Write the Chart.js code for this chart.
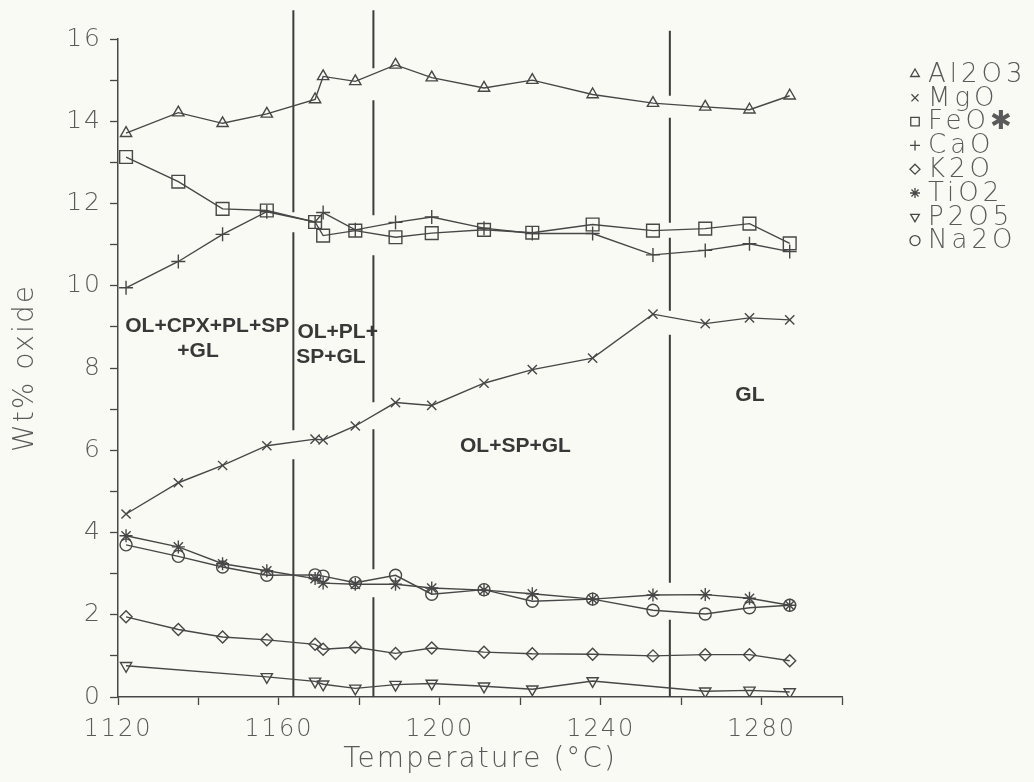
<!DOCTYPE html>
<html>
<head>
<meta charset="utf-8">
<script src="https://cdn.jsdelivr.net/npm/chart.js@4.4.1/dist/chart.umd.min.js"></script>
<style>
  html, body { margin: 0; padding: 0; background: #fafaf4; }
  canvas { display: block; }
</style>
</head>
<body>
<canvas id="chart" width="1034" height="782"></canvas>
<script>
// Run temperatures (°C) and glass compositions (wt% oxide) per run
const temperatures = [1122, 1135, 1146, 1157, 1169, 1171, 1179, 1189, 1198, 1211, 1223, 1238, 1253, 1266, 1277, 1287];
const al2o3 = [13.71, 14.21, 13.95, 14.18, 14.53, 15.09, 14.97, 15.37, 15.06, 14.81, 15.00, 14.65, 14.44, 14.35, 14.28, 14.62];
const mgo   = [4.45, 5.21, 5.63, 6.11, 6.27, 6.25, 6.59, 7.16, 7.09, 7.63, 7.96, 8.24, 9.31, 9.08, 9.22, 9.17];
const feo   = [13.13, 12.53, 11.87, 11.83, 11.55, 11.22, 11.34, 11.18, 11.28, 11.36, 11.29, 11.49, 11.34, 11.39, 11.51, 11.03];
const cao   = [9.95, 10.59, 11.25, 11.80, 11.55, 11.78, 11.36, 11.54, 11.67, 11.40, 11.27, 11.27, 10.75, 10.86, 11.02, 10.83];
const k2o   = [1.95, 1.64, 1.46, 1.39, 1.28, 1.16, 1.21, 1.06, 1.19, 1.09, 1.05, 1.04, 1.00, 1.03, 1.03, 0.88];
const tio2  = [3.92, 3.65, 3.24, 3.07, 2.88, 2.77, 2.74, 2.74, 2.65, 2.60, 2.51, 2.38, 2.48, 2.49, 2.40, 2.23];
const p2o5  = [0.76, null, null, 0.49, 0.38, 0.31, 0.21, 0.30, 0.33, 0.26, 0.19, 0.39, null, 0.14, 0.16, 0.12];
const na2o  = [3.70, 3.42, 3.16, 2.96, 2.97, 2.94, 2.78, 2.96, 2.50, 2.61, 2.33, 2.38, 2.11, 2.02, 2.17, 2.23];

const oxideNames = ['Al2O3', 'MgO', 'FeO✱', 'CaO', 'K2O', 'TiO2', 'P2O5', 'Na2O'];

// Phase boundaries (°C) and how far up each line is drawn (wt%)
const boundaryTemps = [1163.6, 1183.5, 1257.2];
const boundaryTops = [16.7, 16.7, 16.2];

// Phase assemblage labels
const phaseFieldLabels = ['OL+CPX+PL+SP', '+GL', 'OL+PL+', 'SP+GL', 'OL+SP+GL', 'GL'];

// Tick labels
const xTickLabels = [1120, 1160, 1200, 1240, 1280];
const yTickLabels = [0, 2, 4, 6, 8, 10, 12, 14, 16];

const ink = '#474747';
const textInk = '#5a5a5a';
const plotterFont = '"DejaVu Sans", sans-serif';

const toPoints = values => temperatures.map((t, i) => ({ x: t, y: values[i] }));

const markerStyles = [
  { pointStyle: 'triangle', rotation: 0, radius: 6.5 },
  { pointStyle: 'crossRot', rotation: 0, radius: 6.5 },
  { pointStyle: 'rect', rotation: 0, radius: 9 },
  { pointStyle: 'cross', rotation: 0, radius: 7 },
  { pointStyle: 'rectRot', rotation: 0, radius: 6 },
  { pointStyle: 'star', rotation: 0, radius: 6.5 },
  { pointStyle: 'triangle', rotation: 180, radius: 6.5 },
  { pointStyle: 'circle', rotation: 0, radius: 6 }
];

const oxideSeries = [al2o3, mgo, feo, cao, k2o, tio2, p2o5, na2o];

const oxideDatasets = oxideSeries.map((values, i) => ({
  label: oxideNames[i],
  isOxide: true,
  data: toPoints(values),
  borderColor: ink,
  borderWidth: 1.4,
  tension: 0,
  spanGaps: true,
  pointStyle: markerStyles[i].pointStyle,
  pointRotation: markerStyles[i].rotation,
  pointRadius: markerStyles[i].radius,
  pointBorderColor: ink,
  pointBorderWidth: 1.4,
  pointBackgroundColor: 'rgba(0,0,0,0)'
}));

const boundaryDashes = [
  [202, 20, 198, 29, 400],
  [58, 32, 115, 40, 147, 27, 140, 28, 200],
  [65, 22, 105, 15, 73, 24, 248, 37, 200]
];

const boundaryDatasets = boundaryTemps.map((t, i) => ({
  label: 'boundary ' + (i + 1),
  isOxide: false,
  data: [{ x: t, y: boundaryTops[i] }, { x: t, y: 0 }],
  borderColor: '#3c3c3c',
  borderWidth: 2,
  borderDash: boundaryDashes[i],
  pointRadius: 0,
  clip: false
}));

// Paper background and letter spacing for the plotter-style axis text
const paperPlugin = {
  id: 'paper',
  beforeDraw(chart) {
    const ctx = chart.ctx;
    ctx.save();
    ctx.fillStyle = '#fafaf4';
    ctx.fillRect(0, 0, chart.width, chart.height);
    ctx.restore();
    ctx.letterSpacing = '2px';
  },
  beforeDatasetsDraw(chart) {
    chart.ctx.letterSpacing = '0px';
  }
};

// Phase field labels placed in data coordinates
const phaseLabelPlugin = {
  id: 'phaseLabels',
  afterDatasetsDraw(chart, args, opts) {
    const { ctx, scales: { x, y } } = chart;
    ctx.save();
    ctx.letterSpacing = '0px';
    ctx.font = 'bold 21px "Liberation Sans", Arial, sans-serif';
    ctx.fillStyle = '#383838';
    ctx.textBaseline = 'middle';
    opts.items.forEach((it, i) => {
      ctx.textAlign = it.align;
      ctx.fillText(phaseFieldLabels[i], x.getPixelForValue(it.t), y.getPixelForValue(it.v));
    });
    ctx.restore();
  }
};

// Key of oxide symbols to the right of the plot
const keyPlugin = {
  id: 'oxideKey',
  afterDraw(chart, args, opts) {
    const ctx = chart.ctx;
    ctx.save();
    ctx.letterSpacing = '4px';
    ctx.font = `200 26px ${plotterFont}`;
    ctx.textBaseline = 'middle';
    ctx.textAlign = 'left';
    chart.data.datasets.filter(d => d.isOxide).forEach((ds, i) => {
      const yPos = opts.top + i * opts.rowHeight;
      ctx.strokeStyle = ink;
      ctx.lineWidth = 1.3;
      ctx.fillStyle = 'rgba(0,0,0,0)';
      if (Chart.helpers && Chart.helpers.drawPoint) {
        Chart.helpers.drawPoint(ctx, {
          pointStyle: ds.pointStyle,
          rotation: ds.pointRotation || 0,
          radius: ds.pointStyle === 'rect' ? 6 : 5,
          borderWidth: 1.3
        }, opts.markerX, yPos);
      }
      ctx.fillStyle = textInk;
      ctx.fillText(ds.label, opts.textX, yPos + 1);
    });
    ctx.restore();
  }
};

new Chart(document.getElementById('chart'), {
  type: 'line',
  data: { datasets: [...oxideDatasets, ...boundaryDatasets] },
  plugins: [paperPlugin, phaseLabelPlugin, keyPlugin],
  options: {
    responsive: false,
    animation: false,
    events: [],
    layout: { padding: { left: 0, top: 39, right: 192, bottom: 0 } },
    plugins: {
      legend: { display: false },
      tooltip: { enabled: false },
      phaseLabels: {
        items: [
          { t: 1121.8, v: 9.02, align: 'left' },
          { t: 1139.9, v: 8.41, align: 'center' },
          { t: 1164.6, v: 8.88, align: 'left' },
          { t: 1164.3, v: 8.27, align: 'left' },
          { t: 1218.8, v: 6.09, align: 'center' },
          { t: 1277.1, v: 7.34, align: 'center' }
        ]
      },
      oxideKey: { markerX: 915, textX: 928, top: 74, rowHeight: 23.8 }
    },
    scales: {
      x: {
        type: 'linear',
        min: 1120,
        max: 1300,
        afterFit(scale) { scale.height = 85; },
        border: { display: true, color: ink, width: 1.5 },
        grid: { drawOnChartArea: false, drawTicks: true, tickLength: 8, color: ink, tickColor: ink, tickWidth: 1.3 },
        ticks: {
          stepSize: 20,
          autoSkip: false,
          maxRotation: 0,
          padding: 10,
          color: textInk,
          font: { family: plotterFont, size: 24, weight: '200' },
          callback: v => (xTickLabels.includes(v) ? String(v) : '')
        },
        title: {
          display: true,
          text: 'Temperature (°C)',
          color: textInk,
          font: { family: plotterFont, size: 28, weight: '200' },
          padding: { top: 0, bottom: 5 }
        }
      },
      y: {
        type: 'linear',
        min: 0,
        max: 16,
        afterFit(scale) { scale.width = 118; },
        border: { display: true, color: ink, width: 1.5 },
        grid: { drawOnChartArea: false, drawTicks: true, tickLength: 8, color: ink, tickColor: ink, tickWidth: 1.3 },
        ticks: {
          stepSize: 1,
          autoSkip: false,
          padding: 8,
          color: textInk,
          font: { family: plotterFont, size: 25, weight: '200' },
          callback: v => (yTickLabels.includes(v) ? String(v) : '')
        },
        title: {
          display: true,
          text: 'Wt% oxide',
          color: textInk,
          font: { family: plotterFont, size: 28, weight: '200' },
          padding: { top: 9, bottom: 0 }
        }
      }
    }
  }
});
</script>
</body>
</html>
